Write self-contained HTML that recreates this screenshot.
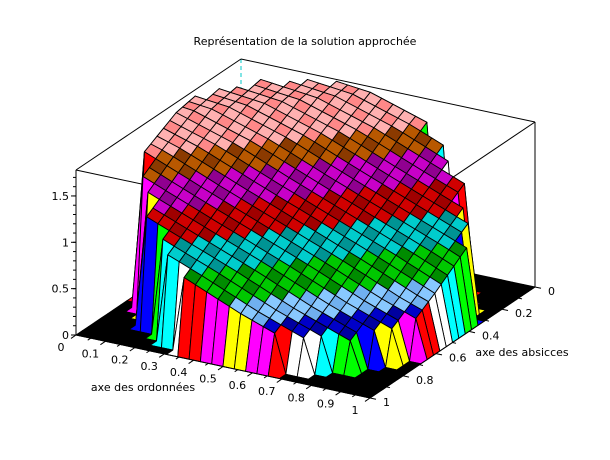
<!DOCTYPE html>
<html><head><meta charset="utf-8"><style>
html,body{margin:0;padding:0;background:#fff;}
svg{display:block;font-family:"DejaVu Sans","Liberation Sans",sans-serif;}
</style></head><body>
<svg id="chart" width="610" height="460" viewBox="0 0 610 460" xmlns="http://www.w3.org/2000/svg">
<rect width="610" height="460" fill="#fff"/>
<text x="305" y="45" font-size="11" text-anchor="middle" fill="#000">Représentation de la solution approchée</text>
<g id="box-back"></g>
<g id="surf"></g>
<g id="axes"></g>
<text x="143" y="391" font-size="11" text-anchor="middle">axe des ordonnées</text>
<text x="522" y="356" font-size="11" text-anchor="middle">axe des absicces</text>
</svg>
<script>
// profile of the surface height along the diagonal s = x + y
const sProfile = [0.3, 0.5, 0.7, 0.9, 1.1, 1.3, 1.5, 1.7];
const zProfile = [1.85, 1.78, 1.58, 1.32, 1.07, 0.82, 0.55, 0.32];
const supportRadius = [0.49];
const zTicks = [0, 0.5, 1, 1.5];
const zTickLabels = ["0", "0.5", "1", "1.5"];
const yTicks = [0,0.1,0.2,0.3,0.4,0.5,0.6,0.7,0.8,0.9,1];
const yTickLabels = ["0","0.1","0.2","0.3","0.4","0.5","0.6","0.7","0.8","0.9","1"];
const xTicks = [0,0.2,0.4,0.6,0.8,1];
const xTickLabels = ["0","0.2","0.4","0.6","0.8","1"];
const zMax = 1.78;

const NS = "http://www.w3.org/2000/svg";
function P(x,y,z){ return [241 + 294*y - 165*x, 224 + 63*y + 111*x - 92.7*z]; }
function mk(tag, attrs, parent){
  const e = document.createElementNS(NS, tag);
  for (const k in attrs) e.setAttribute(k, attrs[k]);
  parent.appendChild(e); return e;
}
function interp(s){
  if (s <= sProfile[0]) return zProfile[0];
  for (let k=1;k<sProfile.length;k++){
    if (s <= sProfile[k]){
      const t=(s-sProfile[k-1])/(sProfile[k]-sProfile[k-1]);
      return zProfile[k-1]+t*(zProfile[k]-zProfile[k-1]);
    }
  }
  return zProfile[zProfile.length-1];
}
function Z(x,y){
  const r=Math.hypot(x-0.5,y-0.5);
  if (r>supportRadius[0]) return 0;
  return interp(x+y);
}
const back = document.getElementById('box-back');
function line(g,a,b,extra,name){
  const l=mk('line',Object.assign({x1:a[0],y1:a[1],x2:b[0],y2:b[1],stroke:'#000','stroke-width':1},extra||{}),g);
  
  
  return l;
}
line(back,P(0,0,zMax),P(0,0,0),{stroke:'#00c8c8','stroke-dasharray':'4,3'},'back-vertical-edge');
line(back,P(1,0,zMax),P(0,0,zMax),{},'box-top-edge-left');
line(back,P(0,0,zMax),P(0,1,zMax),{},'box-top-edge-right');
line(back,P(1,0,zMax),P(1,1,zMax),{},'box-top-front-left');
line(back,P(0,1,zMax),P(1,1,zMax),{},'box-top-front-right');
line(back,P(0,1,zMax),P(0,1,0),{},'box-right-edge');

const surf=document.getElementById('surf');
const N=26;
const wallColors=['#ffff00','#ff00ff','#ff0000','#ffffff','#00ffff','#00ff00','#0000ff'];
function band(z,dark){
  const b=[[1.55,'#ffb0b0','#ff8888'],[1.4,'#b85800','#8b3a00'],[1.22,'#c800c8','#900090'],
    [1.05,'#d00000','#a00000'],[0.85,'#00cccc','#009494'],[0.62,'#00c800','#008c00'],
    [0.5,'#88c8ff','#70b0f0'],[0.0,'#0000c8','#0000a0']];
  for(const e of b){ if(z>=e[0]) return dark?e[2]:e[1]; }
  return '#0000c8';
}
const cells=[];
for(let i=0;i<N;i++)for(let j=0;j<N;j++)cells.push([i,j]);
cells.sort((a,b)=>(a[0]+a[1])-(b[0]+b[1]));
for(const [i,j] of cells){
  const x0=i/N,x1=(i+1)/N,y0=j/N,y1=(j+1)/N;
  const zs=[Z(x0,y0),Z(x1,y0),Z(x1,y1),Z(x0,y1)];
  const pts=[P(x0,y0,zs[0]),P(x1,y0,zs[1]),P(x1,y1,zs[2]),P(x0,y1,zs[3])];
  const nz=zs.filter(v=>v>0).length;
  let fill;
  if(nz===0) fill='#000';
  else if(nz<4){
    const ang=Math.atan2(y0+0.5/N-0.5,x0+0.5/N-0.5);
    fill=wallColors[Math.abs(Math.floor(ang*7))%7];
  } else {
    const m=(zs[0]+zs[1]+zs[2]+zs[3])/4;
    fill=band(m,(i+2*j)%3===0);
  }
  const p=mk('polygon',{points:pts.map(q=>q[0].toFixed(1)+','+q[1].toFixed(1)).join(' '),fill:fill,stroke:'#000','stroke-width':0.9,'stroke-linejoin':'round'},surf);
  
  
}

const ax=document.getElementById('axes');
line(ax,P(1,0,0),P(1,0,zMax),{},'z-axis-line');
line(ax,P(1,0,0),P(1,1,0),{},'y-axis-line');
line(ax,P(0,1,0),P(1,1,0),{},'x-axis-line');
function txt(x,y,s,anchor,name){
  const t=mk('text',{x:x,y:y,'font-size':11,'text-anchor':anchor},ax);
  t.textContent=s;
  
  
}
zTicks.forEach((v,k)=>{
  const p=P(1,0,v);
  line(ax,p,[p[0]-5,p[1]],{},'z-tick');
  txt(p[0]-7,p[1]+4,zTickLabels[k],'end','z-tick-label');
});
for(let v=0.1; v<zMax; v+=0.1){
  const p=P(1,0,v); line(ax,p,[p[0]-3,p[1]],{},'z-minor-tick');
}
yTicks.forEach((v,k)=>{
  const p=P(1,v,0);
  line(ax,p,[p[0]-5,p[1]+3.4],{},'y-tick');
  txt(p[0]-15,p[1]+16,yTickLabels[k],'middle','y-tick-label');
});
for(let k=0;k<10;k++){
  const p=P(1,(k+0.5)/10,0); line(ax,p,[p[0]-3,p[1]+2],{},'y-minor-tick');
}
xTicks.forEach((v,k)=>{
  const p=P(v,1,0);
  line(ax,p,[p[0]+6,p[1]+1.3],{},'x-tick');
  txt(p[0]+13,p[1]+8,xTickLabels[k],'start','x-tick-label');
});
for(let k=0;k<5;k++){
  const p=P((k+0.5)/5,1,0); line(ax,p,[p[0]+3.5,p[1]+0.8],{},'x-minor-tick');
}
</script>
</body></html>
